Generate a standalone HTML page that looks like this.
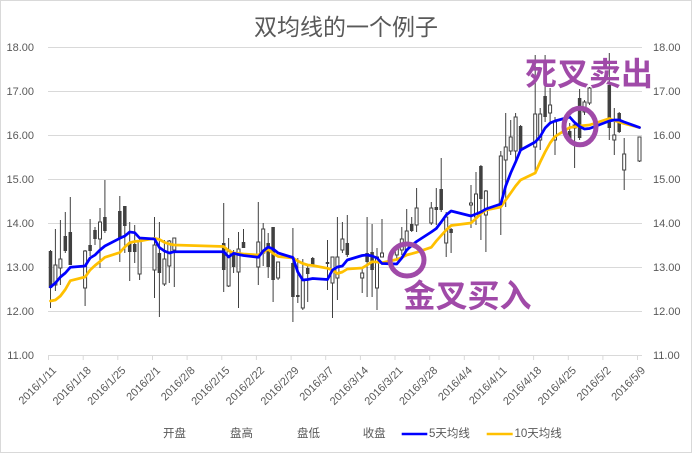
<!DOCTYPE html>
<html>
<head>
<meta charset="utf-8">
<style>
  html, body { margin:0; padding:0; background:#fff; }
  body { width:692px; height:453px; overflow:hidden; }
  svg { display:block; }
  text { font-family: "Liberation Sans", "Noto Sans CJK SC", sans-serif; fill:#595959; }
  .cjk { font-family: "Liberation Sans", "Noto Sans CJK SC", "WenQuanYi Zen Hei", sans-serif; }
</style>
</head>
<body>
<svg width="692" height="453" viewBox="0 0 692 453" xmlns="http://www.w3.org/2000/svg">
  <rect x="0.5" y="0.5" width="691" height="452" fill="#fff" stroke="#D9D9D9" stroke-width="1"/>

  <!-- Title -->
  <text class="cjk" x="346" y="27" font-size="23" text-anchor="middle" dominant-baseline="central">双均线的一个例子</text>

  <!-- Gridlines -->
  <g stroke="#D9D9D9" stroke-width="1">
    <line x1="48" y1="47.5" x2="642" y2="47.5"/>
    <line x1="48" y1="91.5" x2="642" y2="91.5"/>
    <line x1="48" y1="135.5" x2="642" y2="135.5"/>
    <line x1="48" y1="179.5" x2="642" y2="179.5"/>
    <line x1="48" y1="223.5" x2="642" y2="223.5"/>
    <line x1="48" y1="267.5" x2="642" y2="267.5"/>
    <line x1="48" y1="311.5" x2="642" y2="311.5"/>
    <line x1="48" y1="355.5" x2="642" y2="355.5"/>
  </g>
  <!-- x ticks -->
  <path stroke="#D9D9D9" stroke-width="1" fill="none" d="M48.5 355V360M83.2 355V360M117.8 355V360M152.5 355V360M187.1 355V360M221.8 355V360M256.4 355V360M291.1 355V360M325.7 355V360M360.4 355V360M395 355V360M429.7 355V360M464.3 355V360M499 355V360M533.6 355V360M568.3 355V360M602.9 355V360M637.5 355V360"/>

  <!-- Left axis labels -->
  <g font-size="11" text-anchor="end">
    <text x="34" y="51">18.00</text>
    <text x="34" y="95">17.00</text>
    <text x="34" y="139">16.00</text>
    <text x="34" y="183">15.00</text>
    <text x="34" y="227">14.00</text>
    <text x="34" y="271">13.00</text>
    <text x="34" y="315">12.00</text>
    <text x="34" y="359">11.00</text>
  </g>
  <!-- Right axis labels -->
  <g font-size="11" text-anchor="start">
    <text x="653" y="51">18.00</text>
    <text x="653" y="95">17.00</text>
    <text x="653" y="139">16.00</text>
    <text x="653" y="183">15.00</text>
    <text x="653" y="227">14.00</text>
    <text x="653" y="271">13.00</text>
    <text x="653" y="315">12.00</text>
    <text x="653" y="359">11.00</text>
  </g>

  <!-- X axis labels -->
  <g font-size="11" text-anchor="end">
    <text transform="translate(57,371) rotate(-45)">2016/1/11</text>
    <text transform="translate(91.7,371) rotate(-45)">2016/1/18</text>
    <text transform="translate(126.3,371) rotate(-45)">2016/1/25</text>
    <text transform="translate(161,371) rotate(-45)">2016/2/1</text>
    <text transform="translate(195.6,371) rotate(-45)">2016/2/8</text>
    <text transform="translate(230.3,371) rotate(-45)">2016/2/15</text>
    <text transform="translate(264.9,371) rotate(-45)">2016/2/22</text>
    <text transform="translate(299.6,371) rotate(-45)">2016/2/29</text>
    <text transform="translate(334.2,371) rotate(-45)">2016/3/7</text>
    <text transform="translate(368.9,371) rotate(-45)">2016/3/14</text>
    <text transform="translate(403.5,371) rotate(-45)">2016/3/21</text>
    <text transform="translate(438.2,371) rotate(-45)">2016/3/28</text>
    <text transform="translate(472.8,371) rotate(-45)">2016/4/4</text>
    <text transform="translate(507.5,371) rotate(-45)">2016/4/11</text>
    <text transform="translate(542.1,371) rotate(-45)">2016/4/18</text>
    <text transform="translate(576.8,371) rotate(-45)">2016/4/25</text>
    <text transform="translate(611.4,371) rotate(-45)">2016/5/2</text>
    <text transform="translate(646,371) rotate(-45)">2016/5/9</text>
  </g>

  <!-- Candle wicks -->
  <path stroke="#404040" stroke-width="1" fill="none" d="M50.5 250V308M55.4 229V291M60.4 220V285M65.3 212V253M70.3 197V265M85.1 250V306M90.1 219V256M95 227V245M100 208V268M104.9 180V233M119.8 196V262M124.8 206V253M129.7 222V281M134.7 225V263M139.6 237V280M154.5 217V298M159.4 222V317M164.4 240V286M169.3 240V283M174.3 238V287M223.7 203V292M228.6 238V287M233.6 250V273M238.5 232V308M243.5 229V248M258.3 202V285M263.2 223V266M268.2 233V278M273.1 227V302M278.1 262V280M292.9 228V322M297.8 258V303M302.8 259V310M307.7 265V302M312.7 257V265M327.5 240V290M332.5 257V318M337.4 217V300M342.4 222V253M347.3 215V257M362.2 267V293M367.1 217V297M372.1 224V297M377 248V310M382 219V257M396.8 249V260M401.8 227V255M406.7 209V252M411.7 217V232M416.6 188V232M431.3 202V225M436.3 188V225M441.2 158V212M446.2 212V257M451.1 228V253M471 185V228M476 172V225M480.9 165V240M485.9 190V252M500.8 151V235M505.7 113V207M510.7 120V155M515.6 113V162M520.6 125V152M535.2 55V173M540.2 108V150M545.1 55V122M550.1 88V123M555 117V155M569.7 123V143M574.6 123V168M579.6 89V140M584.5 100V115M589.5 87V105M609.3 53V140M614.3 108V155M619.2 112V133M624.2 138V190M639.5 137V162"/>

  <!-- Filled (down) bodies -->
  <path fill="#404040" d="M48.75 251h3.5v37h-3.5zM63.55 236h3.5v15h-3.5zM68.55 232h3.5v33h-3.5zM88.35 245h3.5v6h-3.5zM93.25 230h3.5v9h-3.5zM103.15 217h3.5v14h-3.5zM118.05 211h3.5v28h-3.5zM123.05 206h3.5v20h-3.5zM127.95 243h3.5v9h-3.5zM132.95 244h3.5v8h-3.5zM157.65 253h3.5v20h-3.5zM221.95 243h3.5v27h-3.5zM231.85 253h3.5v14h-3.5zM241.75 242h3.5v6h-3.5zM266.45 243h3.5v24h-3.5zM271.35 227h3.5v53h-3.5zM291.15 263h3.5v34h-3.5zM296.05 295h3.5v2h-3.5zM305.95 268h3.5v6h-3.5zM310.95 258h3.5v7h-3.5zM325.75 262h3.5v2h-3.5zM345.55 243h3.5v12h-3.5zM365.35 253h3.5v9h-3.5zM370.35 252h3.5v18h-3.5zM409.95 224h3.5v7h-3.5zM434.55 207h3.5v3h-3.5zM439.45 189h3.5v21h-3.5zM449.35 229h3.5v4h-3.5zM479.15 166h3.5v33h-3.5zM518.85 126h3.5v24h-3.5zM543.35 96h3.5v21h-3.5zM567.95 131h3.5v9h-3.5zM577.85 98h3.5v40h-3.5zM607.55 85h3.5v43h-3.5zM617.45 113h3.5v19h-3.5z"/>

  <!-- Hollow (up) bodies -->
  <path fill="#fff" stroke="#404040" stroke-width="1" d="M53.9 265h3v20h-3zM58.9 259h3v9h-3zM83.6 251h3v37h-3zM98.5 222h3v17h-3zM138.1 241h3v33h-3zM153 245h3v25h-3zM162.9 259h3v25h-3zM167.8 241h3v25h-3zM172.8 238h3v12h-3zM227.1 250h3v36h-3zM237 249h3v23h-3zM256.8 242h3v25h-3zM261.7 229h3v24h-3zM276.6 262h3v16h-3zM301.3 280h3v28h-3zM331 257h3v26h-3zM335.9 257h3v21h-3zM340.9 239h3v11h-3zM360.7 273h3v5h-3zM375.5 257h3v31h-3zM380.5 253h3v4h-3zM395.3 249h3v6h-3zM400.3 239h3v11h-3zM405.2 231h3v19h-3zM415.1 208h3v17h-3zM429.8 208h3v15h-3zM444.7 217h3v26h-3zM469.5 203h3v2h-3zM474.5 194h3v23h-3zM484.4 191h3v24h-3zM499.3 156h3v50h-3zM504.2 147h3v13h-3zM509.2 137h3v14h-3zM514.1 117h3v34h-3zM533.7 114h3v33h-3zM538.7 114h3v26h-3zM548.6 105h3v8h-3zM553.5 122h3v18h-3zM573.1 125h3v3h-3zM583 102h3v10h-3zM588 88h3v15h-3zM612.8 135h3v5h-3zM622.7 154h3v16h-3zM638 137h3v24h-3z"/>

  <!-- 10-day MA (orange) -->
  <polyline fill="none" stroke="#FFC000" stroke-width="2.75" stroke-linejoin="round" stroke-linecap="round" points="50.5,301 55.4,300 60.4,296 65.3,289.5 70.3,280.7 85.1,277 90.1,270 95,265.5 100,261.5 104.9,257.3 119.8,252.5 124.8,247 129.7,242.7 134.7,241.5 139.6,241 154.5,238.3 159.4,239.5 164.4,242.3 169.3,244 174.3,245 223.7,246.5 228.6,250.7 233.6,253 238.5,253.5 243.5,254 258.3,255 263.2,252 268.2,249.3 273.1,253.5 278.1,256.5 292.9,258 297.8,261 302.8,263.5 307.7,265 312.7,265.5 327.5,268.3 332.5,270 337.4,273.5 342.4,272 347.3,269 362.2,268 367.1,265 372.1,261.7 377,262 382,262.7 396.8,259.5 401.8,257.5 406.7,255 411.7,253.7 416.6,252.3 431.3,247.3 436.3,241 441.2,235.5 446.2,230 451.1,225.5 471,223 476,218.5 480.9,213.5 485.9,210 500.8,207 505.7,200 510.7,193 515.6,186 520.6,180 535.2,173 540.2,162 545.1,152 550.1,143 555,136.5 569.7,127.5 574.6,126.8 579.6,126 584.5,125.5 589.5,125 609.3,118.5 614.3,120.5 619.2,122 624.2,123.5 639.5,127.5"/>

  <!-- 5-day MA (blue) -->
  <polyline fill="none" stroke="#0000FF" stroke-width="2.75" stroke-linejoin="round" stroke-linecap="round" points="50.5,287 55.4,283 60.4,277 65.3,273 70.3,267.3 85.1,266 90.1,258 95,255 100,250 104.9,246 119.8,238.3 124.8,236 129.7,232 134.7,232.7 139.6,238 154.5,239 159.4,247.5 164.4,251 169.3,253 174.3,251.7 223.7,251.7 228.6,257 233.6,253.3 238.5,254.5 243.5,255.5 258.3,257.3 263.2,251 268.2,247 273.1,249 278.1,253 292.9,257.5 297.8,272 302.8,280 307.7,279.5 312.7,278.5 327.5,279.5 332.5,270 337.4,267 342.4,266 347.3,260 362.2,255.5 367.1,255 372.1,256 377,258 382,263.5 396.8,264 401.8,258 406.7,250 411.7,245.5 416.6,241.5 431.3,232 436.3,228.5 441.2,222 446.2,215 451.1,211 471,216 476,214 480.9,212 485.9,209 500.8,204 505.7,186 510.7,173 515.6,162 520.6,150 535.2,142 540.2,136.5 545.1,128 550.1,123 555,121 569.7,117 574.6,122.5 579.6,126.5 584.5,129 589.5,128.5 609.3,121 614.3,120 619.2,120 624.2,122 639.5,127.5"/>

  <!-- Annotations -->
  <ellipse cx="580" cy="126.5" rx="16" ry="18.3" fill="none" stroke="#A04AA8" stroke-width="5"/>
  <ellipse cx="407" cy="260" rx="17" ry="16" fill="none" stroke="#A04AA8" stroke-width="5"/>
  <text class="cjk" x="589" y="74" font-size="32" font-weight="bold" text-anchor="middle" dominant-baseline="central" style="fill:#A04AA8">死叉卖出</text>
  <text class="cjk" x="467.5" y="296" font-size="32" font-weight="bold" text-anchor="middle" dominant-baseline="central" style="fill:#A04AA8">金叉买入</text>

  <!-- Legend -->
  <g font-size="11.5" class="cjk">
    <text x="163" y="434" dominant-baseline="central">开盘</text>
    <text x="230" y="434" dominant-baseline="central">盘高</text>
    <text x="297" y="434" dominant-baseline="central">盘低</text>
    <text x="362.7" y="434" dominant-baseline="central">收盘</text>
    <line x1="401.7" y1="434" x2="427.3" y2="434" stroke="#0000FF" stroke-width="2.5"/>
    <text x="429" y="434" dominant-baseline="central">5天均线</text>
    <line x1="486.7" y1="434" x2="512.7" y2="434" stroke="#FFC000" stroke-width="2.5"/>
    <text x="514.5" y="434" dominant-baseline="central">10天均线</text>
  </g>
</svg>
</body>
</html>
